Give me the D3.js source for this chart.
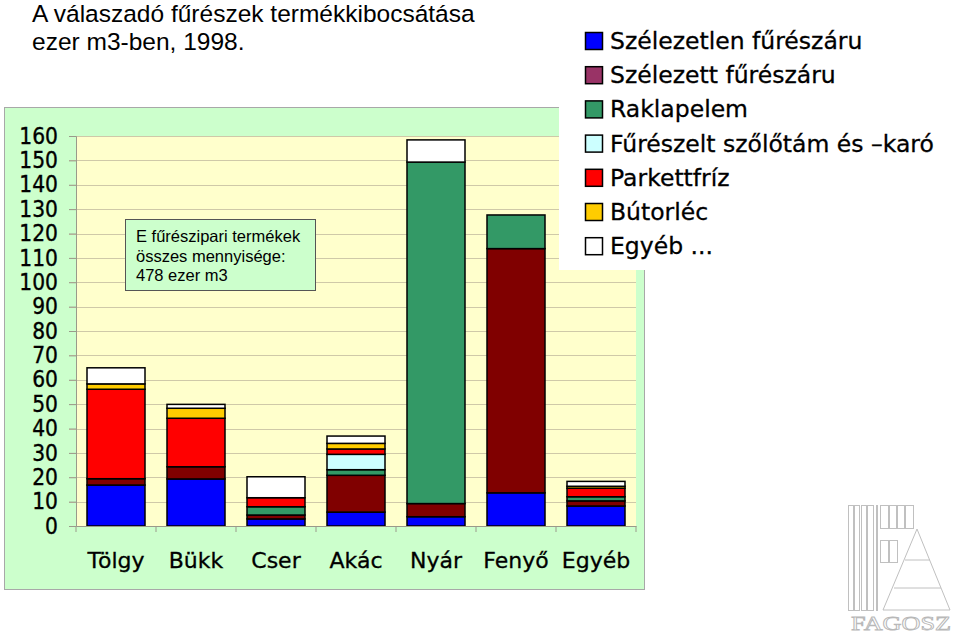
<!DOCTYPE html>
<html><head><meta charset="utf-8">
<script src="https://cdn.jsdelivr.net/npm/d3@7"></script>
<style>body{margin:0;background:#fff}svg{display:block}</style>
</head><body>
<svg id="c" width="960" height="633"></svg>
<script>
const categories = ["Tölgy","Bükk","Cser","Akác","Nyár","Fenyő","Egyéb"];
const seriesNames = ["Szélezetlen fűrészáru","Szélezett fűrészáru","Raklapelem","Fűrészelt szőlőtám és \u2013karó","Parkettfríz","Bútorléc","Egyéb ..."];
const szelezetlen = [16.8, 19.3, 2.9, 5.7, 3.8, 13.6, 8.2];
const szelezett   = [2.6, 5.0, 1.6, 15.1, 5.4, 100.2, 2.1];
const raklapelem  = [0, 0, 3.4, 2.3, 140.1, 13.8, 1.7];
const szolotam    = [0, 0, 0, 6.3, 0, 0, 0];
const parkettfriz = [36.7, 19.9, 3.7, 2.2, 0, 0, 3.5];
const butorlec    = [2.2, 4.1, 0, 2.3, 0, 0, 0.8];
const egyeb       = [6.6, 1.6, 8.6, 3.0, 9.1, 0, 2.0];
const yTicks = [0,10,20,30,40,50,60,70,80,90,100,110,120,130,140,150,160];
const titleLines = ["A válaszadó fűrészek termékkibocsátása","ezer m3-ben, 1998."];
const noteLines = ["E fűrészipari termékek","összes mennyisége:","478 ezer m3"];

const seriesValues = [szelezetlen, szelezett, raklapelem, szolotam, parkettfriz, butorlec, egyeb];
const barColors = ["#0000ff","#800000","#339966","#ccffff","#ff0000","#ffcc00","#ffffff"];
const legendColors = ["#0000ff","#993366","#339966","#ccffff","#ff0000","#ffcc00","#ffffff"];

const rows = categories.map((c,i)=>{const o={cat:c}; seriesNames.forEach((s,j)=>o[s]=seriesValues[j][i]); return o;});
const stacked = d3.stack().keys(seriesNames)(rows);

const svg = d3.select("#c");
const condFont = "'DejaVu Sans Condensed','DejaVu Sans',sans-serif";
const wideFont = "'DejaVu Sans',sans-serif";

// title
svg.append("g").selectAll("text").data(titleLines).join("text")
  .attr("x",32).attr("y",(d,i)=>22+i*28)
  .attr("font-family","'Liberation Sans',Arial,sans-serif").attr("font-size",24.5).attr("fill","#000")
  .text(d=>d);

// chart area
svg.append("rect").attr("x",4.5).attr("y",107.5).attr("width",640).attr("height",482)
  .attr("fill","#ccffcc").attr("stroke","#a8a8a8");

const x = d3.scaleBand().domain(categories).range([76,636]).paddingInner(0.275).paddingOuter(0.1375);
const y = d3.scaleLinear().domain([0,160]).range([526,136]);

// plot area
svg.append("rect").attr("x",76).attr("y",136).attr("width",560).attr("height",390).attr("fill","#ffffcc");

// grid lines
svg.append("g").selectAll("line").data(yTicks.filter(d=>d>0)).join("line")
  .attr("x1",69).attr("x2",636).attr("y1",d=>Math.round(y(d))+0.5).attr("y2",d=>Math.round(y(d))+0.5)
  .attr("stroke","#cfc9a8").attr("stroke-width",1);

// bars
svg.append("g").selectAll("g").data(stacked).join("g")
  .attr("fill",(d,i)=>barColors[i])
  .selectAll("rect").data(d=>d.filter(p=>p[1]-p[0]>0)).join("rect")
  .attr("x",d=>x(d.data.cat)).attr("width",x.bandwidth())
  .attr("y",d=>y(d[1])).attr("height",d=>y(d[0])-y(d[1]))
  .attr("stroke","#000").attr("stroke-width",1.5);

// y axis
const yAxis = d3.axisLeft(y).tickValues(yTicks).tickSize(7).tickPadding(11).tickFormat(d3.format("d"));
const ya = svg.append("g").attr("transform","translate(76,0)").call(yAxis);
ya.select(".domain").attr("stroke","#9a9a8a");
ya.selectAll(".tick line").attr("stroke","#9a9a8a");
ya.selectAll("text").attr("font-family",condFont).attr("font-size",22.5).attr("fill","#000")
  .attr("stroke","#000").attr("stroke-width",0.35);

// x axis
const xAxis = d3.axisBottom(x).tickSize(0).tickPadding(26);
const xa = svg.append("g").attr("transform","translate(0,526)").call(xAxis);
xa.select(".domain").attr("stroke","#9a9a8a");
xa.selectAll("text").attr("font-family",wideFont).attr("font-size",22).attr("fill","#000")
  .attr("stroke","#000").attr("stroke-width",0.3);
// band-boundary tick marks
const bounds = d3.range(categories.length+1).map(i=>76+i*(560/categories.length));
svg.append("g").selectAll("line").data(bounds).join("line")
  .attr("x1",d=>d).attr("x2",d=>d).attr("y1",526).attr("y2",532).attr("stroke","#9a9a8a");

// annotation box
svg.append("rect").attr("x",125.5).attr("y",219.5).attr("width",190).attr("height",71)
  .attr("fill","#ccffcc").attr("stroke","#555");
svg.append("g").selectAll("text").data(noteLines).join("text")
  .attr("x",136).attr("y",(d,i)=>242+i*19.5)
  .attr("font-family","'Liberation Sans',Arial,sans-serif").attr("font-size",16.5).attr("fill","#000")
  .text(d=>d);

// legend
svg.append("rect").attr("x",559).attr("y",25).attr("width",401).attr("height",245).attr("fill","#fff");
const lg = svg.append("g").selectAll("g").data(seriesNames).join("g")
  .attr("transform",(d,i)=>`translate(585,${32+i*34.2})`);
lg.append("rect").attr("width",17).attr("height",17).attr("x",0.5).attr("y",0.5)
  .attr("fill",(d,i)=>legendColors[i]).attr("stroke","#000").attr("stroke-width",1.5);
lg.append("text").attr("x",25).attr("y",17)
  .attr("font-family",wideFont).attr("font-size",23.5).attr("fill","#000")
  .attr("stroke","#000").attr("stroke-width",0.3).text(d=>d);

// FAGOSZ logo (decorative outline)
const logo = svg.append("g").attr("fill","none").attr("stroke","#c0c0c0").attr("stroke-width",1);
[[848,505,5,105],[854,505,5,105],[861,505,5,105],[867,505,6,105],[876,505,1,105]].forEach(r=>
  logo.append("rect").attr("x",r[0]+0.5).attr("y",r[1]+0.5).attr("width",r[2]).attr("height",r[3]));
[[880,505,8,23],[889,505,7,23],[897,505,7,23],[905,505,8,23],[880,540,8,22],[889,540,8,22]].forEach(r=>
  logo.append("rect").attr("x",r[0]+0.5).attr("y",r[1]+0.5).attr("width",r[2]).attr("height",r[3]));
logo.append("path").attr("d","M917,529 L950,610 L883,610 Z");
logo.append("line").attr("x1",905).attr("x2",930).attr("y1",560).attr("y2",560);
logo.append("line").attr("x1",894).attr("x2",941).attr("y1",588).attr("y2",588);
svg.append("text").attr("x",851).attr("y",630).attr("textLength",100).attr("lengthAdjust","spacingAndGlyphs")
  .attr("font-family","'Liberation Serif',serif").attr("font-size",19).attr("fill","#fff")
  .attr("stroke","#b8b8b8").attr("stroke-width",0.8).text("FAGOSZ");
</script>
</body></html>
